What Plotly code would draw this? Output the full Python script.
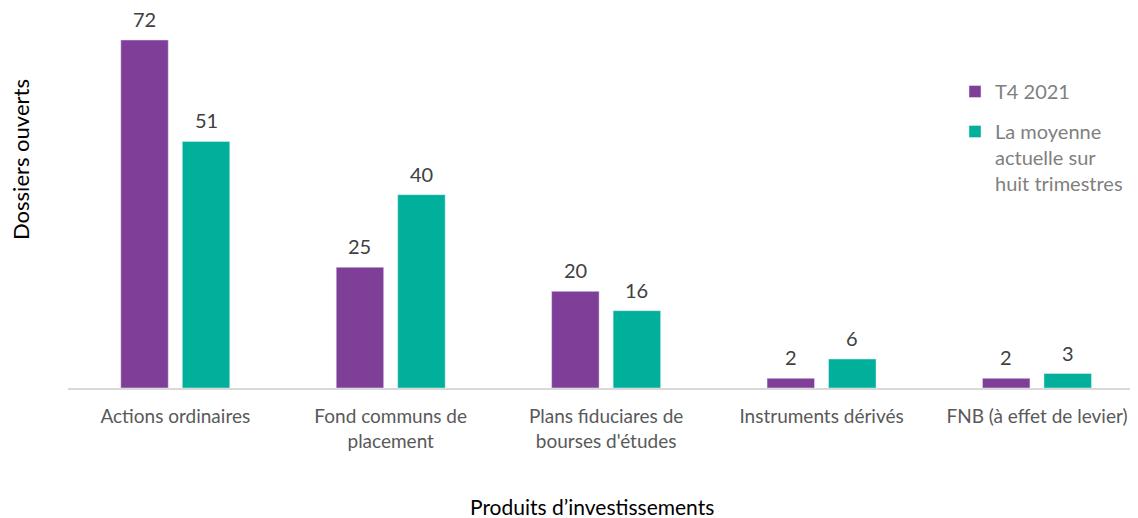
import plotly.graph_objects as go

categories = ["Actions ordinaires", "Fond communs de<br>placement",
              "Plans fiduciares de<br>bourses d'études", "Instruments dérivés",
              "FNB (à effet de levier)"]
t4_2021 = [72, 25, 20, 2, 2]
moyenne = [51, 40, 16, 6, 3]
series_names = ["T4 2021", "La moyenne<br>actuelle sur<br>huit trimestres"]

FONT = "Lato"
PURPLE = "#7F3F98"
TEAL = "#00B09B"

# Page body has an 8px margin in the browser, so the figure is sized to fit.
W, H = 1130, 510
L, R, T, B = 60, 0, 2, 130
PW = W - L - R
PH = H - T - B

fig = go.Figure()
fig.add_trace(go.Bar(x=categories, y=t4_2021, name=series_names[0], marker_color=PURPLE,
                     legendgroup="a"))
fig.add_trace(go.Bar(x=categories, y=moyenne, name=series_names[1], marker_color=TEAL,
                     legendgroup="b"))

annotations = []
for vals, shift in ((t4_2021, -30.75), (moyenne, 30.75)):
    for c, v in zip(categories, vals):
        annotations.append(dict(x=c, y=v, xref="x", yref="y", text=str(v), showarrow=False,
                                xshift=shift, yshift=21, xanchor="center", yanchor="middle",
                                font=dict(family=FONT, size=20, color="#404040")))

annotations += [
    dict(text="Produits d’investissements", xref="paper", yref="paper",
         x=(584 - L) / PW, y=-(498 - (T + PH)) / PH, xanchor="center", yanchor="middle",
         showarrow=False, font=dict(family=FONT, size=21, color="#000000")),
    dict(text="Dossiers ouverts", xref="paper", yref="paper",
         x=(12 - L) / PW, y=((T + PH) - 152) / PH, xanchor="center", yanchor="middle",
         textangle=-90, showarrow=False, font=dict(family=FONT, size=22, color="#000000")),
]

fig.update_layout(
    width=W, height=H,
    margin=dict(l=L, r=R, t=T, b=B, pad=0),
    paper_bgcolor="white", plot_bgcolor="white",
    barmode="group", bargap=0.429, bargroupgap=0.228,
    font=dict(family=FONT, size=20, color="#595959"),
    showlegend=True,
    legend=dict(x=(947 - L) / PW, y=((T + PH) - 64) / PH, xanchor="left", yanchor="top",
                font=dict(family=FONT, size=20, color="#7F7F7F"),
                valign="top", tracegroupgap=11,
                bgcolor="rgba(0,0,0,0)"),
    xaxis=dict(range=[-0.498, 4.469], showline=True, linecolor="#D9D9D9", linewidth=2,
               ticks="", showgrid=False, ticklabelstandoff=10,
               tickfont=dict(family=FONT, size=19, color="#595959")),
    yaxis=dict(range=[0, 78.2], showticklabels=False, showgrid=False, zeroline=False,
               showline=False),
    annotations=annotations,
)

fig.write_html("out.html")
